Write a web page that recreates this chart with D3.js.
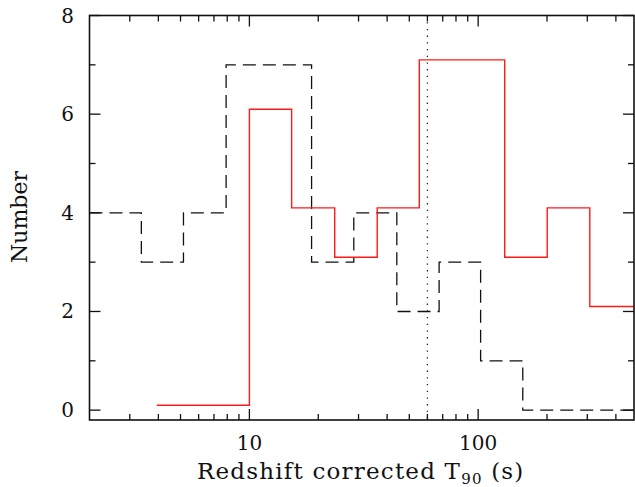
<!DOCTYPE html>
<html>
<head>
<meta charset="utf-8">
<script src="https://cdn.jsdelivr.net/npm/d3@7"></script>
<style>
  body { margin: 0; background: #fff; }
  text { font-family: "DejaVu Serif", serif; fill: #111; }
</style>
</head>
<body>
<div id="chart"></div>
<script>
// Dashed histogram (bin edges in s, counts)
var allEdges = [2, 3.37, 5.15, 7.91, 18.7, 28.6, 44.1, 67.5, 102.5, 156.7, 480];
var allCounts = [4, 3, 4, 7, 3, 4, 2, 3, 1, 0];

// Red histogram (drawn 0.1 above its counts)
var redEdges = [3.94, 10, 15.3, 23.6, 36.2, 55.3, 130.6, 200.4, 307.6, 480];
var redCounts = [0, 6, 4, 3, 4, 7, 3, 4, 2];
var redOffset = 0.1;

// Vertical dotted marker
var markerT90 = 60;

// Ticks
var xMajor = [10, 100];
var xMinor = [3, 4, 5, 6, 7, 8, 9, 20, 30, 40, 50, 60, 70, 80, 90, 200, 300, 400];
var yMajor = [0, 2, 4, 6, 8];
var yMinor = [1, 3, 5, 7];

var width = 635,
    height = 487,
    m = { left: 89.5, right: 634, top: 15.5, bottom: 420 },
    majorLen = 11, minorLen = 6;

var svg = d3.select('#chart')
  .append('svg')
    .attr('width', width)
    .attr('height', height);

var x = d3.scaleLog().domain([2, 480]).range([m.left, m.right]);
var y = d3.scaleLinear().domain([-0.2, 8]).range([m.bottom, m.top]);

svg.append('clipPath')
    .attr('id', 'plot-clip')
  .append('rect')
    .attr('x', m.left)
    .attr('y', m.top)
    .attr('width', m.right - m.left)
    .attr('height', m.bottom - m.top);

// Turn edges + counts into step points
function steps(edges, counts, offset){
  var pts = counts.map(function(c, i){ return [edges[i], c + offset]; });
  pts.push([edges[edges.length - 1], counts[counts.length - 1] + offset]);
  return pts;
}

var line = d3.line()
  .x(function(d){ return x(d[0]); })
  .y(function(d){ return y(d[1]); })
  .curve(d3.curveStepAfter);

var plot = svg.append('g').attr('clip-path', 'url(#plot-clip)');

// Dotted marker line
plot.append('line')
    .attr('x1', x(markerT90))
    .attr('x2', x(markerT90))
    .attr('y1', m.top)
    .attr('y2', m.bottom)
    .attr('stroke', '#222')
    .attr('stroke-width', 1.3)
    .attr('stroke-dasharray', '1.3,5.4');

// Dashed histogram
plot.append('path')
    .attr('d', line(steps(allEdges, allCounts, 0)))
    .attr('fill', 'none')
    .attr('stroke', '#111')
    .attr('stroke-width', 1.3)
    .attr('stroke-dasharray', '13,7');

// Red histogram
plot.append('path')
    .attr('d', line(steps(redEdges, redCounts, redOffset)))
    .attr('fill', 'none')
    .attr('stroke', '#ff1a1a')
    .attr('stroke-width', 1.4);

// Frame
svg.append('rect')
    .attr('x', m.left)
    .attr('y', m.top)
    .attr('width', m.right - m.left)
    .attr('height', m.bottom - m.top)
    .attr('fill', 'none')
    .attr('stroke', '#111')
    .attr('stroke-width', 1.6);

var ticks = svg.append('g').attr('stroke', '#111').attr('stroke-width', 1.3);

function xTicks(vals, len){
  vals.forEach(function(v){
    ticks.append('line').attr('x1', x(v)).attr('x2', x(v)).attr('y1', m.bottom).attr('y2', m.bottom - len);
    ticks.append('line').attr('x1', x(v)).attr('x2', x(v)).attr('y1', m.top).attr('y2', m.top + len);
  });
}
function yTicks(vals, len){
  vals.forEach(function(v){
    ticks.append('line').attr('x1', m.left).attr('x2', m.left + len).attr('y1', y(v)).attr('y2', y(v));
    ticks.append('line').attr('x1', m.right).attr('x2', m.right - len).attr('y1', y(v)).attr('y2', y(v));
  });
}
xTicks(xMajor, majorLen);
xTicks(xMinor, minorLen);
yTicks(yMajor, majorLen);
yTicks(yMinor, minorLen);

// Tick labels
svg.selectAll('.x-label')
  .data(xMajor)
  .enter()
    .append('text')
      .attr('x', function(d){ return x(d); })
      .attr('y', 450)
      .attr('text-anchor', 'middle')
      .attr('font-size', 20)
      .text(function(d){ return d; });

svg.selectAll('.y-label')
  .data(yMajor)
  .enter()
    .append('text')
      .attr('x', 74)
      .attr('y', function(d){ return y(d) + 7; })
      .attr('text-anchor', 'end')
      .attr('font-size', 20)
      .text(function(d){ return d; });

// Axis titles
var xt = svg.append('text')
    .attr('x', 197)
    .attr('y', 479)
    .attr('font-size', 23)
    .attr('letter-spacing', 1.2);
xt.append('tspan').text('Redshift corrected T');
xt.append('tspan').attr('font-size', 15).attr('dy', 5).text('90');
xt.append('tspan').attr('dy', -5).text(' (s)');

svg.append('text')
    .attr('transform', 'translate(27,217) rotate(-90)')
    .attr('text-anchor', 'middle')
    .attr('font-size', 22)
    .text('Number');
</script>
</body>
</html>
